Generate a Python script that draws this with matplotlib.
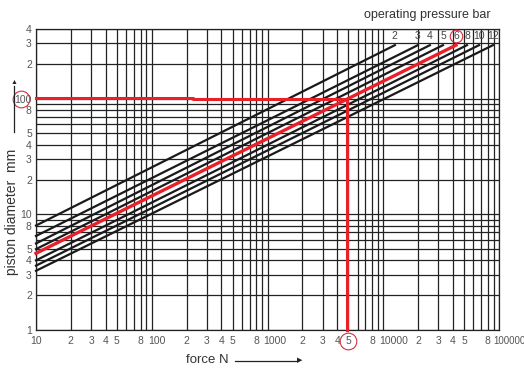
import matplotlib.pyplot as plt
import matplotlib.transforms as mtransforms
from matplotlib.ticker import FixedLocator, NullFormatter

plt.rcParams['font.family'] = ['Liberation Sans', 'DejaVu Sans']

# pressure lines: diameter at F=10 N and force where each line ends (d ~ 300 mm)
pressures = ["2", "3", "4", "5", "6", "8", "10", "12"]
d_start = [8.0, 6.5, 5.6, 5.0, 4.6, 4.0, 3.6, 3.25]
f_end = [12600, 19900, 25300, 32800, 42500, 52900, 67200, 88700]
d_end = [290, 290, 290, 290, 290, 290, 290, 290]
f_start = 10

# example reading (red)
ex_h_x = [10, 227, 227, 4900]
ex_h_y = [101.5, 101.5, 99.5, 99.5]
ex_force = 4900
ex_diam = 99.5

x_ticks = [10, 20, 30, 40, 50, 80, 100, 200, 300, 400, 500, 800, 1000,
           2000, 3000, 4000, 5000, 8000, 10000, 20000, 30000, 40000, 50000, 80000, 100000]
x_labels = ["10", "2", "3", "4", "5", "8", "100", "2", "3", "4", "5", "8", "1000",
            "2", "3", "4", "5", "8", "10000", "2", "3", "4", "5", "8", "100000"]
y_ticks = [1, 2, 3, 4, 5, 8, 10, 20, 30, 40, 50, 80, 100, 200, 300, 400]
y_labels = ["1", "2", "3", "4", "5", "8", "10", "2", "3", "4", "5", "8", "100", "2", "3", "4"]

fig = plt.figure(figsize=(5.24, 3.69), dpi=100)
ax = fig.add_axes([36/524, 1 - 330/369, (499 - 36)/524, (330 - 29)/369])
ax.set_xscale("log")
ax.set_yscale("log")
ax.set_xlim(10, 100000)
ax.set_ylim(1, 400)

ax.xaxis.set_major_locator(FixedLocator(x_ticks))
ax.set_xticklabels(x_labels)
ax.yaxis.set_major_locator(FixedLocator(y_ticks))
ax.set_yticklabels(y_labels)
minors_x = [m * 10**e for e in range(1, 5) for m in (6, 7, 9)]
minors_y = [m * 10**e for e in range(0, 3) for m in (6, 7, 9)]
ax.xaxis.set_minor_locator(FixedLocator(minors_x))
ax.yaxis.set_minor_locator(FixedLocator(minors_y))
ax.xaxis.set_minor_formatter(NullFormatter())
ax.yaxis.set_minor_formatter(NullFormatter())
ax.tick_params(which="both", length=0, labelsize=7.5, labelcolor="#555555")
ax.tick_params(axis="x", pad=4)
ax.tick_params(axis="y", pad=3)
ax.grid(True, which="both", color="#222222", lw=0.9)
for s in ax.spines.values():
    s.set_color("#222222")
    s.set_linewidth(0.9)

# decade labels sit a little to the right of their grid line
shift = mtransforms.ScaledTranslation(-4/100, 0, fig.dpi_scale_trans)
last_shift = mtransforms.ScaledTranslation(-6/100, 0, fig.dpi_scale_trans)
for lab in ax.get_xticklabels():
    if lab.get_text() in ("100", "1000", "10000"):
        lab.set_horizontalalignment("left")
        lab.set_transform(lab.get_transform() + shift)
    elif lab.get_text() == "100000":
        lab.set_horizontalalignment("left")
        lab.set_fontsize(7)
        lab.set_transform(lab.get_transform() + last_shift)

for p, d0, f1, d1 in zip(pressures, d_start, f_end, d_end):
    if p == "6":
        ax.plot([f_start, f1], [d0, d1], color="#e8202a", lw=2.4, zorder=4, clip_on=False)
    else:
        ax.plot([f_start, f1], [d0, d1], color="#1a1a1a", lw=1.6, zorder=3, clip_on=False)
    ax.text(f1, 345, p, ha="center", va="center", fontsize=7.5, color="#444444", zorder=5)

ax.plot(ex_h_x, ex_h_y, color="#e8202a", lw=2.2, zorder=4, clip_on=False)
ax.plot([ex_force, ex_force], [ex_diam, 1], color="#e8202a", lw=2.2, zorder=4, clip_on=False)

# red circles around the example values
ax.plot([f_end[4]], [345], marker="o", ms=9, mfc="none", mec="#d03040", mew=0.8, zorder=6)
ty = mtransforms.blended_transform_factory(ax.transAxes, ax.transData)
ax.plot([-0.033], [100], marker="o", ms=12, mfc="none", mec="#d03040", mew=0.8,
        transform=ty, clip_on=False)
tx = mtransforms.blended_transform_factory(ax.transData, ax.transAxes)
ax.plot([5000], [-0.035], marker="o", ms=12, mfc="none", mec="#d03040", mew=0.8,
        transform=tx, clip_on=False)

fig.text(427/524, 1 - 15/369, "operating pressure bar", ha="center", va="center",
         fontsize=9, color="#333333")
fig.text(12/524, 1 - 212/369, "piston diameter  mm", rotation=90, ha="center", va="center",
         fontsize=10, color="#333333")
fig.add_artist(plt.Line2D([14/524, 14/524], [1 - 132/369, 1 - 86/369], color="#222222", lw=0.9))
fig.text(14/524, 1 - 83/369, "\u25b2", ha="center", va="center", fontsize=5, color="#222222")
fig.text(186/524, 1 - 360/369, "force N", ha="left", va="center", fontsize=9.5, color="#333333")
fig.add_artist(plt.Line2D([235/524, 298/524], [1 - 361/369, 1 - 361/369], color="#222222", lw=0.9))
fig.text(300/524, 1 - 361/369, "\u25b6", ha="center", va="center", fontsize=5, color="#222222")

fig.savefig("out.png", dpi=100)
